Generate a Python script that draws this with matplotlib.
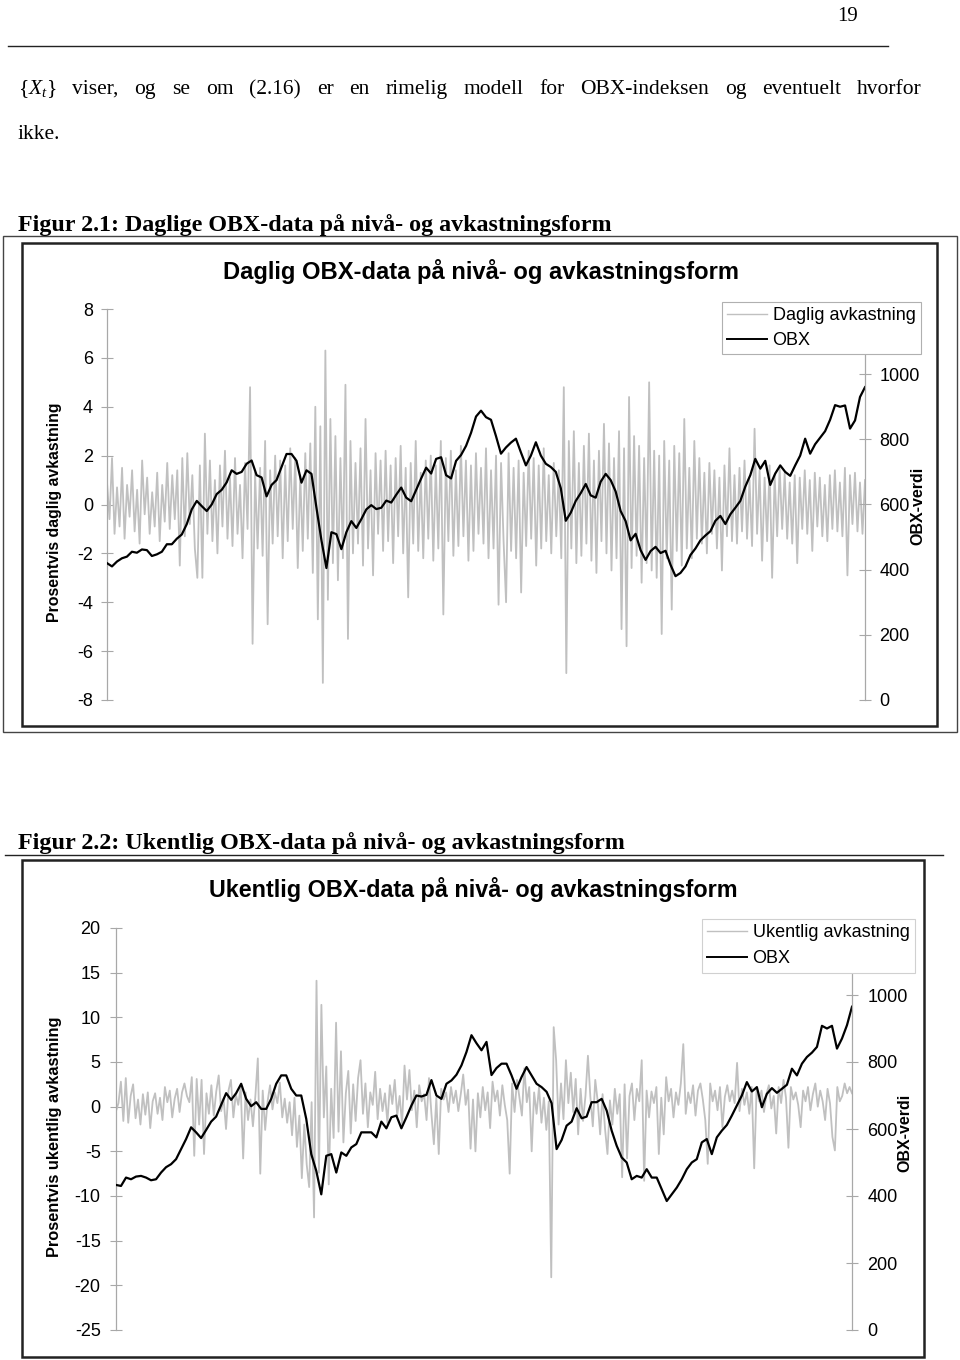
import numpy as np
import matplotlib
matplotlib.use("Agg")
import matplotlib.pyplot as plt
from matplotlib.lines import Line2D
from matplotlib.patches import Rectangle

# ---------------- data ----------------
page_number = "19"
body_words = ["{$X_t$}", "viser,", "og", "se", "om", "(2.16)", "er", "en", "rimelig",
              "modell", "for", "OBX-indeksen", "og", "eventuelt", "hvorfor"]
body_line2 = "ikke."
fig1_caption = "Figur 2.1: Daglige OBX-data på nivå- og avkastningsform"
fig2_caption = "Figur 2.2: Ukentlig OBX-data på nivå- og avkastningsform"
daily_title = "Daglig OBX-data på nivå- og avkastningsform"
weekly_title = "Ukentlig OBX-data på nivå- og avkastningsform"
daily_left_label = "Prosentvis daglig avkastning"
weekly_left_label = "Prosentvis ukentlig avkastning"
right_label = "OBX-verdi"
daily_legend = ["Daglig avkastning", "OBX"]
weekly_legend = ["Ukentlig avkastning", "OBX"]

daily_ret_ticks = [-8, -6, -4, -2, 0, 2, 4, 6, 8]
weekly_ret_ticks = [-25, -20, -15, -10, -5, 0, 5, 10, 15, 20]
obx_ticks = [0, 200, 400, 600, 800, 1000]

# OBX index level, daily chart (sampled along the period)
obx_daily = [
    420, 410, 425, 435, 440, 455, 452, 462, 460, 442,
    447, 455, 478, 478, 495, 508, 540, 585, 611, 595,
    580, 600, 632, 645, 668, 705, 694, 700, 725, 735,
    690, 683, 625, 660, 675, 715, 755, 755, 734, 667,
    705, 694, 590, 490, 405, 515, 509, 463, 515, 549,
    528, 555, 585, 598, 586, 590, 612, 606, 630, 652,
    621, 610, 645, 680, 713, 695, 740, 745, 690, 680,
    734, 752, 780, 820, 870, 888, 868, 860, 810, 756,
    775, 790, 802, 760, 720, 750, 791, 750, 725, 715,
    700, 650, 550, 575, 611, 635, 663, 628, 621, 670,
    694, 675, 640, 580, 549, 490, 510, 460, 430, 457,
    470, 451, 458, 415, 380, 390, 410, 445, 465, 490,
    505, 518, 550, 565, 540, 570, 590, 611, 655, 690,
    740, 710, 734, 660, 695, 720, 700, 688, 720, 750,
    802, 756, 785, 805, 825, 860, 905, 900, 904, 833,
    858, 930, 960]

daily_ret = [
    0.9, -0.6, 1.9, -1.2, 0.7, -0.9, 1.5, -1.4, 0.8, -0.5,
    1.4, -1.1, 0.6, -1.6, 1.8, -0.4, 1.1, -1.2, 0.5, -0.9,
    1.3, -1.5, 0.8, -0.7, 1.7, -1.0, 1.2, -0.6, 1.4, -2.5,
    1.9, -1.3, 2.1, -0.8, 1.2, -1.8, -3.0, 1.6, -3.0, 2.9,
    -1.2, 1.8, -1.5, 1.0, -2.0, 1.6, -0.9, 2.2, -1.4, 1.1,
    -1.7, 1.9, -1.2, 0.8, -2.2, 1.7, -1.0, 4.8, -5.7, 1.3,
    -1.8, 1.5, -2.1, 2.6, -4.9, 1.4, -1.6, 2.0, -1.3, 1.8,
    -2.2, 1.6, -1.5, 2.3, -1.0, 1.9, -2.6, 1.2, -1.9, 2.1,
    -1.4, 2.5, -2.8, 4.0, -4.7, 3.2, -7.3, 6.3, -3.9, 3.5,
    -2.4, 2.8, -3.1, 1.9, -2.2, 4.9, -5.5, 2.6, -2.0, 1.7,
    -1.6, 2.3, -2.5, 3.5, -1.8, 1.4, -2.9, 2.1, -1.2, 1.8,
    -1.9, 2.2, -1.5, 1.6, -2.4, 1.9, -1.3, 2.4, -2.0, 1.5,
    -3.8, 1.7, -1.6, 2.6, -1.9, 1.3, -2.2, 1.8, -1.4, 2.0,
    -2.3, 1.6, -1.8, 2.6, -4.5, 1.9, -1.5, 2.2, -2.1, 1.4,
    -1.7, 2.4, -1.3, 1.8, -2.3, 1.6, -1.9, 2.1, -1.2, 1.5,
    -1.6, 2.3, -2.2, 1.4, -1.8, 2.0, -4.1, 1.7, -1.5, -4.0,
    2.1, -1.9, 1.5, -2.2, 1.8, -3.6, 1.3, -1.7, 2.2, -1.4,
    1.9, -2.5, 1.6, -1.8, 2.3, -1.5, 1.2, -2.0, 1.7, -1.3,
    1.4, -2.2, 4.8, -6.9, 2.6, -1.8, 3.0, -2.4, 1.7, -2.1,
    2.4, -1.6, 2.9, -2.3, 1.8, -2.8, 2.2, -1.5, 3.3, -2.0,
    2.5, -2.7, 1.9, -2.2, 3.0, -5.1, 2.3, -5.8, 4.4, -2.6,
    2.8, -2.1, 2.4, -3.2, 1.9, -2.4, 5.0, -2.7, 2.2, -3.0,
    2.0, -5.3, 2.6, -2.2, 1.8, -4.3, 2.4, -1.9, 2.1, -2.5,
    3.5, -1.8, 1.5, -2.2, 2.6, -1.4, 1.9, -1.6, 1.3, -2.0,
    1.7, -1.2, 1.4, -1.8, 1.1, -2.7, 1.6, -1.3, 2.3, -1.5,
    1.2, -1.6, 1.5, -1.1, 1.8, -1.4, 1.0, -1.7, 3.1, -1.2,
    1.4, -2.3, 1.1, -1.5, 1.6, -3.0, 1.2, -1.3, 1.5, -1.0,
    1.3, -1.4, 0.9, -1.6, 1.2, -2.4, 1.1, -1.0, 1.4, -1.2,
    1.0, -1.9, 1.3, -0.9, 1.1, -1.3, 0.8, -1.5, 1.2, -1.0,
    1.4, -1.1, 0.9, -1.3, 1.5, -2.9, 1.2, -0.8, 1.3, -1.1,
    0.9, -1.2, 1.0]

# OBX index level, weekly chart
obx_weekly = [
    433, 430, 455, 450, 458, 460, 455, 447, 450, 470,
    486, 495, 510, 540, 570, 605, 590, 573, 597, 622,
    637, 672, 707, 687, 707, 735, 690, 668, 680, 660,
    660, 690, 735, 760, 760, 720, 700, 700, 630, 525,
    475, 405, 520, 525, 470, 530, 520, 545, 555, 590,
    590, 590, 575, 622, 602, 635, 640, 602, 635, 670,
    700, 697, 702, 746, 700, 690, 735, 745, 762, 790,
    830, 880, 856, 835, 860, 761, 782, 795, 795, 760,
    720, 755, 785, 760, 735, 725, 711, 677, 540, 567,
    610, 622, 662, 632, 637, 680, 680, 690, 655, 595,
    550, 515, 500, 450, 460, 455, 480, 455, 455, 420,
    385, 405, 425, 450, 480, 500, 510, 560, 570, 525,
    575, 595, 612, 640, 670, 700, 740, 712, 725, 665,
    705, 722, 708, 720, 732, 780, 760, 795, 815, 828,
    845, 908, 900, 908, 840, 870, 910, 965]

# weekly returns in percent
weekly_ret = [
    -0.5, 0.4, 2.8, -1.6, 3.2, -1.8, 1.2, 2.5, -1.3, 0.8,
    -2.0, 1.4, -0.9, 1.6, -2.4, 0.6, 1.5, -0.8, 1.0, -1.5,
    2.2, 0.5, 1.8, -1.2, 0.9, 2.0, -0.6, 1.6, 2.6, 1.2,
    0.5, 3.3, -5.5, 3.1, -2.0, 3.0, -5.3, 1.5, -0.8, 2.4,
    -1.0, 1.7, 3.5, -0.5, 0.9, -2.5, 1.8, 3.0, -1.2, 1.4,
    0.2, 2.2, -5.8, 1.6, -1.5, 0.8, -2.2, 1.2, 5.4, -7.5,
    1.8, -2.6, 0.6, 2.4, -0.3, 1.6, 0.4, 2.7, -1.2, 0.9,
    -1.8, 0.5, -3.2, 1.0, -4.5, -1.0, -8.0, -2.0, -6.5, -9.0,
    0.5, -12.4, 14.1, -7.4, 11.4, -1.2, 4.5, -8.7, 2.0, -3.5,
    9.4, -2.8, 6.2, -4.0, 1.5, 4.0, -3.0, 2.5, -1.6, 3.2,
    5.2, -0.8, 2.6, -2.3, 1.6, 0.2, 3.9, -1.4, 2.0, -0.5,
    1.5, -1.8, 2.4, 0.3, 3.0, -1.0, 1.2, -2.0, 4.6, 0.8,
    4.1, -0.4, 1.8, -2.3, 2.4, 0.6, 1.4, -1.5, 3.2, -0.8,
    -4.2, 1.0, -5.3, 2.0, 0.8, 1.6, -0.6, 2.2, 0.4, 1.8,
    -0.5, 1.4, 3.6, 0.2, 1.9, -4.7, 0.8, -5.0, 1.5, -1.2,
    2.2, -0.4, 1.6, -2.4, 2.8, 0.6, 1.8, -1.0, 2.4, 0.2,
    -1.5, -7.5, 2.6, -0.6, 3.0, 1.0, -1.0, 4.3, 0.5, 2.2,
    -5.0, 1.6, -0.8, 2.2, -1.8, 1.0, -2.6, 0.6, -19.1, 8.9,
    5.2, -2.0, 2.6, -1.4, 5.2, 0.4, 3.8, -0.6, 3.1, -3.1,
    2.0, -1.6, 1.2, 5.7, 1.1, -2.2, 3.0, 0.6, -3.1, 1.4,
    -2.5, -5.3, 0.7, -2.0, 2.0, -0.8, 1.4, -7.9, 2.5, -5.8,
    1.2, 2.6, -1.5, 2.0, 0.6, 5.2, -8.3, 1.8, -1.2, 1.7,
    0.4, 2.2, -5.3, 1.0, -3.1, 3.3, 0.6, 2.0, -1.2, 1.6,
    0.2, 2.6, 7.0, -0.8, 1.6, 0.4, 2.4, -1.0, 1.8, 2.6,
    0.8, -1.5, -6.4, 2.6, 0.6, 1.8, -0.4, 2.2, -2.3, 1.1,
    2.4, 0.6, 1.8, 0.4, 4.9, -0.5, 2.0, 0.2, 1.6, -0.8,
    2.2, -6.9, 2.2, 0.6, 1.8, -0.6, 1.4, 2.4, -0.2, 1.2,
    -3.0, 2.2, 0.4, 3.0, 1.0, -4.6, 2.2, 0.8, 1.6, 0.2,
    -2.3, 1.8, 0.6, 2.2, -0.4, 1.4, 2.6, 0.0, 1.8, 0.6,
    -1.5, 2.0, 0.4, -3.4, -4.9, 2.2, 0.6, 1.2, 2.6, 1.5,
    2.2, 1.5]

# ---------------- styling ----------------
W, H = 960, 1360
SERIF = ["Liberation Serif", "DejaVu Serif"]
SANS = ["Liberation Sans", "DejaVu Sans"]
plt.rcParams["font.family"] = SANS
plt.rcParams["axes.unicode_minus"] = False
plt.rcParams["mathtext.fontset"] = "custom"
plt.rcParams["mathtext.it"] = "Liberation Serif:italic"
plt.rcParams["mathtext.rm"] = "Liberation Serif"

GREY_RET = "#c0c0c0"
AXIS_GREY = "#a8a8a8"
TICK_FS = 13

fig = plt.figure(figsize=(W / 100, H / 100), dpi=100)
renderer = fig.canvas.get_renderer()


def fx(x):
    return x / W


def fy(y):
    return 1 - y / H


def fit_width(t, target):
    bb = t.get_window_extent(renderer)
    t.set_fontsize(t.get_fontsize() * target / bb.width)


def fit_height(t, target):
    bb = t.get_window_extent(renderer)
    t.set_fontsize(t.get_fontsize() * target / bb.height)


def hline(x0, x1, y, lw=1.0, color="#222222"):
    fig.add_artist(Line2D([fx(x0), fx(x1)], [fy(y), fy(y)], transform=fig.transFigure,
                          color=color, lw=lw))


def rect(x0, y0, x1, y1, lw=1.0, color="#222222"):
    fig.add_artist(Rectangle((fx(x0), fy(y1)), fx(x1) - fx(x0), (y1 - y0) / H,
                             transform=fig.transFigure, fill=False, ec=color, lw=lw))


# ---------------- page text ----------------
fig.text(fx(858), fy(21), page_number, family=SERIF, fontsize=15, ha="right", va="baseline")
hline(8, 888, 46, lw=1.0)

# justified first line
words = [fig.text(0, fy(94), w, family=SERIF, fontsize=15.5, va="baseline") for w in body_words]
widths = [w.get_window_extent(renderer).width for w in words]
gap = (922 - 18 - sum(widths)) / (len(words) - 1)
xpos = 18
for w, wd in zip(words, widths):
    w.set_x(fx(xpos))
    xpos += wd + gap
fig.text(fx(18), fy(139), body_line2, family=SERIF, fontsize=15.5, va="baseline")

c1 = fig.text(fx(18), fy(231), fig1_caption, family=SERIF, fontsize=16, fontweight="bold", va="baseline")
fit_width(c1, 597)
c2 = fig.text(fx(18), fy(849), fig2_caption, family=SERIF, fontsize=16, fontweight="bold", va="baseline")
fit_width(c2, 609)
hline(5, 943, 855, lw=1.0)

# frames
rect(3, 236, 957, 732, lw=1.0, color="#444444")
rect(22, 243, 937, 726, lw=1.8, color="#222222")
rect(22, 860, 924, 1357, lw=1.8, color="#222222")


def style_axes(ax1, ax2, pad_left, pad_right):
    for ax in (ax1, ax2):
        ax.set_xlim(0, 1)
        ax.set_xticks([])
        for s in ("top", "bottom"):
            ax.spines[s].set_visible(False)
    ax1.spines["right"].set_visible(False)
    ax2.spines["left"].set_visible(False)
    ax1.spines["left"].set_color(AXIS_GREY)
    ax2.spines["right"].set_color(AXIS_GREY)
    ax1.spines["left"].set_linewidth(0.9)
    ax2.spines["right"].set_linewidth(0.9)
    ax1.patch.set_visible(False)
    ax2.patch.set_visible(False)
    ax1.tick_params(axis="y", direction="inout", length=8, width=0.8, color=AXIS_GREY,
                    labelsize=TICK_FS, pad=pad_left, labelcolor="black")
    ax2.tick_params(axis="y", direction="inout", length=8, width=0.8, color=AXIS_GREY,
                    labelsize=TICK_FS, pad=pad_right, labelcolor="black")


# ---------------- daily chart ----------------
ax1 = fig.add_axes([fx(107), fy(700), fx(865) - fx(107), (700 - 309) / H])
ax1.plot(np.linspace(0, 1, len(daily_ret)), daily_ret, color=GREY_RET, lw=1.3)
ax1.set_ylim(-8, 8)
ax1.set_yticks(daily_ret_ticks)
ax2 = ax1.twinx()
ax2.plot(np.linspace(0, 1, len(obx_daily)), obx_daily, color="black", lw=1.6)
ax2.set_ylim(0, 1200)
ax2.set_yticks(obx_ticks)
style_axes(ax1, ax2, 6.0, 6.5)

t = fig.text(fx(481), fy(271), daily_title, fontsize=14, fontweight="bold", ha="center", va="center")
fit_width(t, 518)
t = fig.text(fx(55), fy(512), daily_left_label, fontsize=11, fontweight="bold", rotation=90,
             ha="center", va="center")
fit_height(t, 220)
fig.text(fx(918), fy(506), right_label, fontsize=11.5, fontweight="bold", rotation=90,
         ha="center", va="center")

h_ret = Line2D([], [], color=GREY_RET, lw=1.0)
h_obx = Line2D([], [], color="black", lw=1.4)
leg = fig.legend([h_ret, h_obx], daily_legend, loc="upper left",
                 bbox_to_anchor=(fx(722), fy(302)), bbox_transform=fig.transFigure,
                 fontsize=13, frameon=True, fancybox=False, framealpha=1, edgecolor="#b0b0b0",
                 handlelength=2.2, handletextpad=0.3, borderpad=0.3, labelspacing=0.42,
                 borderaxespad=0)
leg.get_frame().set_linewidth(0.8)

# ---------------- weekly chart ----------------
bx1 = fig.add_axes([fx(116), fy(1330), fx(852) - fx(116), (1330 - 928) / H])
bx1.plot(np.linspace(0, 1, len(weekly_ret)), weekly_ret, color=GREY_RET, lw=1.3)
bx1.set_ylim(-25, 20)
bx1.set_yticks(weekly_ret_ticks)
bx2 = bx1.twinx()
bx2.plot(np.linspace(0, 1, len(obx_weekly)), obx_weekly, color="black", lw=1.6)
bx2.set_ylim(0, 1200)
bx2.set_yticks(obx_ticks)
style_axes(bx1, bx2, 7.0, 7.0)

t = fig.text(fx(473), fy(889), weekly_title, fontsize=14, fontweight="bold", ha="center", va="center")
fit_width(t, 530)
t = fig.text(fx(55), fy(1137), weekly_left_label, fontsize=11, fontweight="bold", rotation=90,
             ha="center", va="center")
fit_height(t, 242)
fig.text(fx(905), fy(1133), right_label, fontsize=11.5, fontweight="bold", rotation=90,
         ha="center", va="center")

leg2 = fig.legend([h_ret, h_obx], weekly_legend, loc="upper left",
                  bbox_to_anchor=(fx(702), fy(919)), bbox_transform=fig.transFigure,
                  fontsize=13, frameon=True, fancybox=False, framealpha=1, edgecolor="#d0d0d0",
                  handlelength=2.2, handletextpad=0.3, borderpad=0.3, labelspacing=0.5,
                  borderaxespad=0)
leg2.get_frame().set_linewidth(0.8)

fig.savefig("out.png", dpi=100)
